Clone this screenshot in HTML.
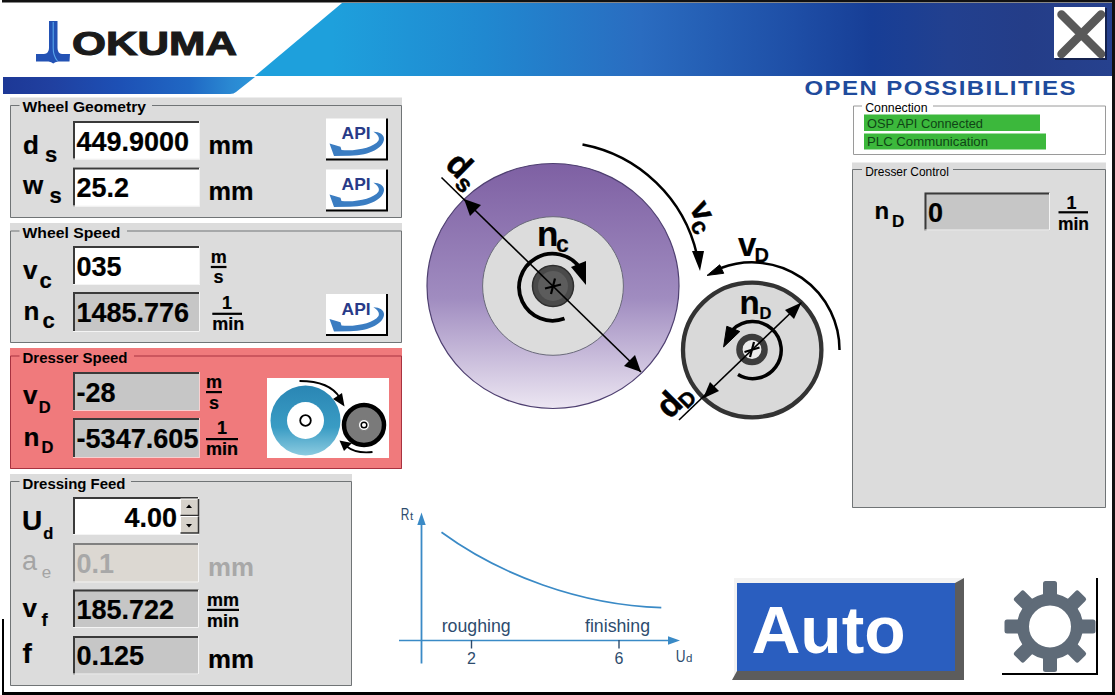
<!DOCTYPE html><html><head><meta charset="utf-8"><style>html,body{margin:0;padding:0;background:#fff;overflow:hidden;width:1115px;height:695px}svg{display:block}text{font-family:"Liberation Sans",sans-serif}</style></head><body>
<svg width="1115" height="695" viewBox="0 0 1115 695">
<defs>
<linearGradient id="hdr" x1="0" y1="0" x2="1" y2="0">
<stop offset="0.09" stop-color="#1ea0dc"/><stop offset="0.27" stop-color="#2088d0"/><stop offset="0.45" stop-color="#2a6cc0"/><stop offset="0.63" stop-color="#1e4ea6"/><stop offset="0.72" stop-color="#173e96"/><stop offset="0.81" stop-color="#22408f"/><stop offset="0.9" stop-color="#243d88"/><stop offset="1" stop-color="#26418e"/>
</linearGradient>
<linearGradient id="hdr2" x1="0" y1="0" x2="1" y2="0">
<stop offset="0" stop-color="#1d3896"/><stop offset="0.19" stop-color="#2040a0"/><stop offset="0.46" stop-color="#1d50b5"/><stop offset="0.74" stop-color="#2068c4"/><stop offset="0.9" stop-color="#2a88d2"/><stop offset="1" stop-color="#2b96da"/>
</linearGradient>
<linearGradient id="purp" x1="0" y1="0" x2="0" y2="1">
<stop offset="0" stop-color="#7e60a3"/><stop offset="0.55" stop-color="#a08cc0"/><stop offset="1" stop-color="#ece6f2"/>
</linearGradient>
<linearGradient id="teal" x1="0" y1="0" x2="0" y2="1">
<stop offset="0" stop-color="#2a86b4"/><stop offset="0.6" stop-color="#3a9cc4"/><stop offset="1" stop-color="#8ccbe0"/>
</linearGradient>
</defs>
<rect x="0" y="0" width="1115" height="695" fill="#fff"/>
<polygon points="342,3 1112,3 1112,76 255,76" fill="url(#hdr)"/>
<path d="M3,77 H255 L236,92 Q234,94 230,94 H3 Z" fill="url(#hdr2)"/>
<rect x="2" y="0" width="1113" height="2.5" fill="#111"/>
<rect x="1112" y="0" width="3" height="695" fill="#111"/>
<rect x="2" y="692" width="1113" height="3" fill="#000"/>
<rect x="2" y="619" width="2" height="76" fill="#000"/>
<path d="M49,21 H57.5 V48 Q57.5,53.5 62,54 H70 L69.5,61.5 H58 Q55,62 53.2,63.5 Q51.5,62 48.5,61.5 H36 L36,54 H44 Q49,53.5 49,48 Z" fill="#2352b4"/>
<path d="M53.2,22 V48 Q53.2,56 57.5,61" fill="none" stroke="#5aa8ec" stroke-width="1.1"/>
<text x="72" y="54.6" font-size="33" font-weight="bold" fill="#1a1a1a" textLength="165" lengthAdjust="spacingAndGlyphs" stroke="#1a1a1a" stroke-width="1.1">OKUMA</text>
<rect x="1055" y="8" width="52" height="52" fill="#15234f"/>
<rect x="1054" y="7" width="51" height="51" fill="#fff"/>
<path d="M1061.5,14.5 L1101,54 M1101,14.5 L1061.5,54" stroke="#595959" stroke-width="8.5" stroke-linecap="round"/>
<text transform="translate(804.5,94.8) scale(1.2,1)" x="0" y="0" font-size="20" font-weight="bold" fill="#1f4b9c" letter-spacing="1.2">OPEN POSSIBILITIES</text>
<rect x="10" y="97.5" width="392" height="120.5" fill="#dcdcdc"/>
<path d="M19.5,105.5 H10.5 V217.5 H401.5 V105.5 H152" fill="none" stroke="#707476" stroke-width="1"/>
<text x="22.5" y="112.2" font-size="14.5" font-weight="bold" textLength="123.5" lengthAdjust="spacingAndGlyphs">Wheel Geometry</text>
<text x="23" y="153.8" font-size="26" font-weight="bold" stroke="#000" stroke-width="0.2">d</text>
<text x="45" y="161.8" font-size="22" font-weight="bold" stroke="#000" stroke-width="0.2">s</text>
<text x="23" y="194.4" font-size="26" font-weight="bold" stroke="#000" stroke-width="0.2">w</text>
<text x="49.5" y="202.8" font-size="22" font-weight="bold" stroke="#000" stroke-width="0.2">s</text>
<rect x="73" y="121" width="127" height="38.5" fill="#fff"/>
<path d="M74,159.5 V122 H200" fill="none" stroke="#3a3a3a" stroke-width="2"/>
<path d="M73,159.0 H199.5 V121" fill="none" stroke="#f4f4f4" stroke-width="1"/>
<text x="76.5" y="150.5" font-size="27" font-weight="bold" stroke="#000" stroke-width="0.2" textLength="112.5" lengthAdjust="spacingAndGlyphs">449.9000</text>
<rect x="73" y="167.5" width="127" height="39.0" fill="#fff"/>
<path d="M74,206.5 V168.5 H200" fill="none" stroke="#3a3a3a" stroke-width="2"/>
<path d="M73,206.0 H199.5 V167.5" fill="none" stroke="#f4f4f4" stroke-width="1"/>
<text x="76.5" y="197" font-size="27" font-weight="bold" stroke="#000" stroke-width="0.2">25.2</text>
<text x="208.5" y="153.5" font-size="26" font-weight="bold" stroke="#000" stroke-width="0.2" textLength="45" lengthAdjust="spacingAndGlyphs">mm</text>
<text x="208.5" y="199.5" font-size="26" font-weight="bold" stroke="#000" stroke-width="0.2" textLength="45" lengthAdjust="spacingAndGlyphs">mm</text>
<g transform="translate(326,118.5)">
<rect x="0" y="0" width="61" height="40" fill="#fff"/>
<path d="M61,0 V41 H0" fill="none" stroke="#000" stroke-width="2"/>
<text x="15.6" y="20.7" font-size="16.3" font-weight="bold" fill="#283a88" textLength="29" lengthAdjust="spacingAndGlyphs">API</text>
<path d="M47.4,13.2 C53,13 58.5,16 58,21 C57,29 45,37 24,37.2 L8,37.5 L3.5,25 L14.5,28.2 L15.5,31.5 C30,33 48,29 52.5,22 C54,19 51.5,15.5 47.4,13.2 Z" fill="#3b7dc2"/>
</g>
<g transform="translate(326,169.5)">
<rect x="0" y="0" width="61" height="40" fill="#fff"/>
<path d="M61,0 V41 H0" fill="none" stroke="#000" stroke-width="2"/>
<text x="15.6" y="20.7" font-size="16.3" font-weight="bold" fill="#283a88" textLength="29" lengthAdjust="spacingAndGlyphs">API</text>
<path d="M47.4,13.2 C53,13 58.5,16 58,21 C57,29 45,37 24,37.2 L8,37.5 L3.5,25 L14.5,28.2 L15.5,31.5 C30,33 48,29 52.5,22 C54,19 51.5,15.5 47.4,13.2 Z" fill="#3b7dc2"/>
</g>
<rect x="10" y="223" width="392" height="120" fill="#dcdcdc"/>
<path d="M19.5,231.0 H10.5 V342.5 H401.5 V231.0 H127" fill="none" stroke="#707476" stroke-width="1"/>
<text x="22.5" y="238" font-size="14" font-weight="bold" textLength="98" lengthAdjust="spacingAndGlyphs">Wheel Speed</text>
<text x="23" y="279" font-size="26" font-weight="bold" stroke="#000" stroke-width="0.2">v</text>
<text x="39.5" y="287.6" font-size="22" font-weight="bold" stroke="#000" stroke-width="0.2">c</text>
<text x="23.5" y="320" font-size="26" font-weight="bold" stroke="#000" stroke-width="0.2">n</text>
<text x="42.5" y="328.4" font-size="22" font-weight="bold" stroke="#000" stroke-width="0.2">c</text>
<rect x="73" y="246" width="127" height="39" fill="#fff"/>
<path d="M74,285 V247 H200" fill="none" stroke="#3a3a3a" stroke-width="2"/>
<path d="M73,284.5 H199.5 V246" fill="none" stroke="#f4f4f4" stroke-width="1"/>
<text x="76.5" y="276" font-size="27" font-weight="bold" stroke="#000" stroke-width="0.2">035</text>
<rect x="73" y="292" width="127" height="40" fill="#c6c6c6"/>
<path d="M74,332 V293 H200" fill="none" stroke="#3a3a3a" stroke-width="2"/>
<path d="M73,331.5 H199.5 V292" fill="none" stroke="#f4f4f4" stroke-width="1"/>
<text x="76.5" y="322" font-size="27" font-weight="bold" stroke="#000" stroke-width="0.2">1485.776</text>
<text x="210.8" y="263" font-size="18" font-weight="bold" stroke="#000" stroke-width="0.2">m</text>
<rect x="210.8" y="265.9" width="15.699999999999989" height="2.2" fill="#000"/>
<text x="213.5" y="283.2" font-size="18" font-weight="bold" stroke="#000" stroke-width="0.2">s</text>
<text x="222" y="309" font-size="18" font-weight="bold" stroke="#000" stroke-width="0.2">1</text>
<rect x="212.3" y="312.7" width="29.69999999999999" height="2.2" fill="#000"/>
<text x="212.3" y="330" font-size="18" font-weight="bold" stroke="#000" stroke-width="0.2">min</text>
<g transform="translate(326,294)">
<rect x="0" y="0" width="61" height="40" fill="#fff"/>
<path d="M61,0 V41 H0" fill="none" stroke="#000" stroke-width="2"/>
<text x="15.6" y="20.7" font-size="16.3" font-weight="bold" fill="#283a88" textLength="29" lengthAdjust="spacingAndGlyphs">API</text>
<path d="M47.4,13.2 C53,13 58.5,16 58,21 C57,29 45,37 24,37.2 L8,37.5 L3.5,25 L14.5,28.2 L15.5,31.5 C30,33 48,29 52.5,22 C54,19 51.5,15.5 47.4,13.2 Z" fill="#3b7dc2"/>
</g>
<rect x="10" y="348" width="392" height="121" fill="#f07a7c"/>
<path d="M19.5,356.0 H10.5 V468.5 H401.5 V356.0 H134" fill="none" stroke="#a83240" stroke-width="1"/>
<text x="22.5" y="363" font-size="14" font-weight="bold" textLength="105" lengthAdjust="spacingAndGlyphs">Dresser Speed</text>
<text x="23" y="404" font-size="26" font-weight="bold" stroke="#000" stroke-width="0.2">v</text>
<text x="38.8" y="412.5" font-size="16.5" font-weight="bold" stroke="#000" stroke-width="0.2">D</text>
<text x="23.5" y="445.6" font-size="26" font-weight="bold" stroke="#000" stroke-width="0.2">n</text>
<text x="41.6" y="452.8" font-size="16.5" font-weight="bold" stroke="#000" stroke-width="0.2">D</text>
<rect x="73" y="372" width="127" height="39" fill="#c6c6c6"/>
<path d="M74,411 V373 H200" fill="none" stroke="#3a3a3a" stroke-width="2"/>
<path d="M73,410.5 H199.5 V372" fill="none" stroke="#f8d0d0" stroke-width="1"/>
<text x="76.5" y="402" font-size="27" font-weight="bold" stroke="#000" stroke-width="0.2">-28</text>
<rect x="73" y="418" width="127" height="40" fill="#c6c6c6"/>
<path d="M74,458 V419 H200" fill="none" stroke="#3a3a3a" stroke-width="2"/>
<path d="M73,457.5 H199.5 V418" fill="none" stroke="#f8d0d0" stroke-width="1"/>
<text x="76.5" y="448" font-size="27" font-weight="bold" stroke="#000" stroke-width="0.2" textLength="122" lengthAdjust="spacingAndGlyphs">-5347.605</text>
<text x="206" y="388" font-size="18" font-weight="bold" stroke="#000" stroke-width="0.2">m</text>
<rect x="206" y="391" width="16" height="2.2" fill="#000"/>
<text x="209" y="409" font-size="18" font-weight="bold" stroke="#000" stroke-width="0.2">s</text>
<text x="217" y="434" font-size="18" font-weight="bold" stroke="#000" stroke-width="0.2">1</text>
<rect x="206" y="438" width="32" height="2.2" fill="#000"/>
<text x="206" y="455" font-size="18" font-weight="bold" stroke="#000" stroke-width="0.2">min</text>
<rect x="267" y="378" width="122" height="80" fill="#fff"/>
<circle cx="305.5" cy="420.5" r="35" fill="url(#teal)"/>
<circle cx="305.5" cy="420.5" r="18.5" fill="#fff"/>
<circle cx="305.5" cy="420.5" r="5.3" fill="none" stroke="#000" stroke-width="1.8"/>
<circle cx="364" cy="425" r="20" fill="#7a7a7a" stroke="#000" stroke-width="4.5"/>
<circle cx="364" cy="425" r="5.5" fill="#fff" stroke="#777" stroke-width="1"/>
<circle cx="364" cy="425" r="2.8" fill="none" stroke="#000" stroke-width="1.5"/>
<path d="M299.5,381 Q330,381 340,398" fill="none" stroke="#000" stroke-width="1.8"/>
<path d="M344.5,406.5 L333,399 L342,393 Z" fill="#000"/>
<path d="M372.5,452 Q356,454 346,446" fill="none" stroke="#000" stroke-width="1.8"/>
<path d="M339.5,440.5 L352,443 L344,451 Z" fill="#000"/>
<rect x="10" y="474" width="342" height="212" fill="#dcdcdc"/>
<path d="M19.5,481.5 H10.5 V685.5 H351.5 V481.5 H131" fill="none" stroke="#707476" stroke-width="1"/>
<text x="22.5" y="489" font-size="14" font-weight="bold" textLength="103" lengthAdjust="spacingAndGlyphs">Dressing Feed</text>
<text x="22" y="529.7" font-size="28" font-weight="bold" stroke="#000" stroke-width="0.2">U</text>
<text x="43.3" y="538.8" font-size="16.5" font-weight="bold" stroke="#000" stroke-width="0.2">d</text>
<text x="22" y="569.5" font-size="27" fill="#a4a4a4">a</text>
<text x="41.8" y="577.7" font-size="17" fill="#a4a4a4">e</text>
<text x="22.5" y="617.4" font-size="26" font-weight="bold" stroke="#000" stroke-width="0.2">v</text>
<text x="41.5" y="625.6" font-size="18.5" font-weight="bold" stroke="#000" stroke-width="0.2">f</text>
<text x="22.5" y="662.6" font-size="28" font-weight="bold" stroke="#000" stroke-width="0.2">f</text>
<rect x="73" y="497" width="126" height="38" fill="#fff"/>
<path d="M74,535 V498 H199" fill="none" stroke="#3a3a3a" stroke-width="2"/>
<path d="M73,534.5 H198.5 V497" fill="none" stroke="#f4f4f4" stroke-width="1"/>
<text x="177" y="527" font-size="27" font-weight="bold" stroke="#000" stroke-width="0.2" text-anchor="end">4.00</text>
<rect x="180.5" y="499" width="18" height="16.5" fill="#d6d2ca"/><rect x="180.5" y="516.5" width="18" height="16.5" fill="#d6d2ca"/>
<path d="M180.5,515.5 V499 H198" fill="none" stroke="#fff" stroke-width="1"/><path d="M180.5,515.5 H198.5 V499" fill="none" stroke="#333" stroke-width="1.5"/>
<path d="M180.5,533 V516.5 H198" fill="none" stroke="#fff" stroke-width="1"/><path d="M180.5,533 H198.5 V516.5" fill="none" stroke="#333" stroke-width="1.5"/>
<path d="M186,508 L192,508 L189,504.5 Z M186,524 L192,524 L189,527.5 Z" fill="#000"/>
<rect x="73" y="543" width="126" height="39.5" fill="#dcd8d2"/>
<path d="M74,582.5 V544 H199" fill="none" stroke="#808080" stroke-width="2"/>
<path d="M73,582.0 H198.5 V543" fill="none" stroke="#f4f4f4" stroke-width="1"/>
<text x="76.5" y="573" font-size="27" font-weight="bold" fill="#a8a8a8">0.1</text>
<text x="208" y="576" font-size="26" font-weight="bold" fill="#a8a8a8" textLength="46" lengthAdjust="spacingAndGlyphs">mm</text>
<rect x="73" y="589.5" width="126" height="38.5" fill="#c6c6c6"/>
<path d="M74,628 V590.5 H199" fill="none" stroke="#3a3a3a" stroke-width="2"/>
<path d="M73,627.5 H198.5 V589.5" fill="none" stroke="#f4f4f4" stroke-width="1"/>
<text x="76.5" y="619" font-size="27" font-weight="bold" stroke="#000" stroke-width="0.2">185.722</text>
<text x="207" y="606.2" font-size="18" font-weight="bold" stroke="#000" stroke-width="0.2" textLength="32" lengthAdjust="spacingAndGlyphs">mm</text>
<rect x="207" y="608.8" width="32" height="2.2" fill="#000"/>
<text x="207" y="626.8" font-size="18" font-weight="bold" stroke="#000" stroke-width="0.2" textLength="32" lengthAdjust="spacingAndGlyphs">min</text>
<rect x="73" y="636" width="126" height="38.5" fill="#c6c6c6"/>
<path d="M74,674.5 V637 H199" fill="none" stroke="#3a3a3a" stroke-width="2"/>
<path d="M73,674.0 H198.5 V636" fill="none" stroke="#f4f4f4" stroke-width="1"/>
<text x="76.5" y="665" font-size="27" font-weight="bold" stroke="#000" stroke-width="0.2">0.125</text>
<text x="208" y="668" font-size="26" font-weight="bold" stroke="#000" stroke-width="0.2" textLength="46" lengthAdjust="spacingAndGlyphs">mm</text>
<rect x="853" y="105.5" width="253" height="49.5" fill="#fff"/>
<path d="M862,106.0 H853.5 V154.5 H1105.5 V106.0 H933" fill="none" stroke="#9a9a9a" stroke-width="1"/>
<text x="865.2" y="112" font-size="12.5" textLength="62.4" lengthAdjust="spacingAndGlyphs">Connection</text>
<rect x="864" y="114.5" width="176" height="16.5" fill="#3cb83c"/>
<rect x="864" y="133.5" width="182" height="16" fill="#3cb83c"/>
<text x="867" y="127.5" font-size="12.5" fill="#0f4416" textLength="116" lengthAdjust="spacingAndGlyphs">OSP API Connected</text>
<text x="867" y="146" font-size="12.5" fill="#0f4416" textLength="121" lengthAdjust="spacingAndGlyphs">PLC Communication</text>
<rect x="852" y="162.5" width="254" height="345.5" fill="#dcdcdc"/>
<path d="M862,169.5 H852.5 V507.5 H1105.5 V169.5 H953" fill="none" stroke="#707476" stroke-width="1"/>
<text x="865.2" y="176" font-size="12.5" textLength="83.6" lengthAdjust="spacingAndGlyphs">Dresser Control</text>
<text x="874.5" y="218.6" font-size="24" font-weight="bold" stroke="#000" stroke-width="0.2">n</text>
<text x="892" y="227.4" font-size="17" font-weight="bold" stroke="#000" stroke-width="0.2">D</text>
<rect x="924.5" y="192.5" width="125.5" height="38.0" fill="#c6c6c6"/>
<path d="M925.5,230.5 V193.5 H1050" fill="none" stroke="#3a3a3a" stroke-width="2"/>
<path d="M924.5,230.0 H1049.5 V192.5" fill="none" stroke="#f4f4f4" stroke-width="1"/>
<text x="928" y="222" font-size="27" font-weight="bold" stroke="#000" stroke-width="0.2">0</text>
<text x="1066.5" y="208.7" font-size="18" font-weight="bold" stroke="#000" stroke-width="0.2">1</text>
<rect x="1058.5" y="211.2" width="29.5" height="2.2" fill="#000"/>
<text x="1058" y="229.8" font-size="18" font-weight="bold" stroke="#000" stroke-width="0.2" textLength="31" lengthAdjust="spacingAndGlyphs">min</text>
<ellipse cx="553" cy="286" rx="126" ry="122.5" fill="url(#purp)" stroke="#4e3f70" stroke-width="1.2"/>
<ellipse cx="553" cy="286" rx="70.4" ry="69.3" fill="#dcdcdc" stroke="#6a6a7a" stroke-width="1"/>
<circle cx="553" cy="286" r="20.5" fill="#4a4a4a" stroke="#2e2e2e" stroke-width="1.5"/>
<circle cx="553" cy="286" r="15" fill="#5c5c5c"/>
<path d="M545,288.5 L561,284.5 M555,278.5 L551,294" stroke="#000" stroke-width="2.2"/>
<path d="M564.5,318.5 A33.5,33.5 0 1 1 580,268" fill="none" stroke="#000" stroke-width="3.8"/>
<path d="M571,267 L586,261 L586,285 Z" fill="#000"/>
<text x="537" y="246.4" font-size="35" font-weight="bold" stroke="#000" stroke-width="0.2">n</text>
<text x="556" y="252" font-size="23" font-weight="bold" stroke="#000" stroke-width="0.2">c</text>
<path d="M441.5,177.5 L641,372" stroke="#000" stroke-width="1.6"/>
<path d="M464,199 L481,205 L470,216 Z" fill="#000"/>
<path d="M641,372 L624,366 L635,355 Z" fill="#000"/>
<g transform="translate(443.9,165.8) rotate(45)" stroke="#000" stroke-width="0.5"><text x="0" y="0" font-size="34" font-weight="bold">d</text><text x="20.5" y="6.5" font-size="24" font-weight="bold">s</text></g>
<path d="M582.5,144.5 A145,145 0 0 1 697,255" fill="none" stroke="#000" stroke-width="2.5"/>
<path d="M700,271 L692,251 L704,251 Z" fill="#000"/>
<g transform="translate(689,207.5) rotate(63)" stroke="#000" stroke-width="0.4"><text x="0" y="0" font-size="32" font-weight="bold">v</text><text x="15.5" y="7" font-size="24" font-weight="bold">c</text></g>
<path d="M721,268 A87.5,87.5 0 0 1 839.5,350" fill="none" stroke="#000" stroke-width="2.5"/>
<path d="M707.1,275.4 L719.7,264.8 L723.7,273.3 Z" fill="#000" stroke="#000" stroke-width="1" stroke-linejoin="round"/>
<text x="738" y="255.7" font-size="33" font-weight="bold" stroke="#000" stroke-width="0.2">v</text>
<text x="754.5" y="261.8" font-size="20" font-weight="bold" stroke="#000" stroke-width="0.2">D</text>
<ellipse cx="752.2" cy="350" rx="69.2" ry="67.3" fill="#d9d9d9" stroke="#333" stroke-width="4.3"/>
<circle cx="752" cy="349.5" r="12.6" fill="#ececec" stroke="#3c3c3c" stroke-width="6.4"/>
<path d="M744.5,352 L759.5,347.5 M754,342 L750,357" stroke="#000" stroke-width="2.2"/>
<path d="M738,374.5 A28.5,28.5 0 1 0 733,329.5" fill="none" stroke="#000" stroke-width="3.5"/>
<path d="M723.6,347 L726.8,326.3 L739.8,331.5 Z" fill="#000" stroke="#000" stroke-width="1" stroke-linejoin="round"/>
<text x="739.5" y="314" font-size="33" font-weight="bold" stroke="#000" stroke-width="0.2">n</text>
<text x="759.5" y="319.1" font-size="16.5" font-weight="bold" stroke="#000" stroke-width="0.2">D</text>
<path d="M679,420 L801.5,302.5" stroke="#000" stroke-width="1.6"/>
<path d="M801.5,302.5 L794,319 L785,310 Z" fill="#000"/>
<path d="M703,398.5 L710,382 L719,391 Z" fill="#000"/>
<g transform="translate(669.8,420) rotate(-45)" stroke="#000" stroke-width="0.5"><text x="0" y="0" font-size="34" font-weight="bold">d</text><text x="19.5" y="5" font-size="21" font-weight="bold">D</text></g>
<path d="M421.5,522 V663.5" stroke="#3a8ac6" stroke-width="1.8"/>
<path d="M421.5,512.5 L417.3,525 L425.7,525 Z" fill="#3a8ac6"/>
<path d="M399,640.5 H670" stroke="#3a8ac6" stroke-width="1.7"/>
<path d="M680,640.5 L668,636.2 L668,644.8 Z" fill="#3a8ac6"/>
<path d="M471.5,640 V648.5 M619,640 V648.5" stroke="#2d4c6e" stroke-width="1.4"/>
<path d="M441.5,532.3 C500,575 580,605 661.3,607.7" fill="none" stroke="#3a8ac6" stroke-width="1.7"/>
<text x="441.7" y="631.8" font-size="17.5" fill="#2d4c6e" textLength="69" lengthAdjust="spacingAndGlyphs">roughing</text>
<text x="585" y="631.8" font-size="17.5" fill="#2d4c6e" textLength="65" lengthAdjust="spacingAndGlyphs">finishing</text>
<text x="471.5" y="664.3" font-size="16" fill="#2d4c6e" text-anchor="middle">2</text>
<text x="619" y="664.3" font-size="16" fill="#2d4c6e" text-anchor="middle">6</text>
<text x="400.8" y="519.9" font-size="16.5" fill="#2d4c6e" textLength="8.6" lengthAdjust="spacingAndGlyphs">R</text>
<text x="410" y="519.9" font-size="11.5" fill="#2d4c6e">t</text>
<text x="675.8" y="661.7" font-size="16.5" fill="#2d4c6e" textLength="9.8" lengthAdjust="spacingAndGlyphs">U</text>
<text x="686" y="661.7" font-size="11.5" fill="#2d4c6e">d</text>
<polygon points="734,578 964,578 955,583 737,583 737,671 734,676" fill="#f2f2f2"/>
<polygon points="964,578 964,680 732,680 737,671 955,671 955,583" fill="#5c5c5c"/>
<rect x="737" y="583" width="218" height="88" fill="#2a5ebf"/>
<text x="751.4" y="653.4" font-size="66" font-weight="bold" fill="#fff" textLength="154.3" lengthAdjust="spacingAndGlyphs">Auto</text>
<path d="M1097,578 V674 H1002" fill="none" stroke="#000" stroke-width="2"/>
<circle cx="1050" cy="626.5" r="27" fill="none" stroke="#5f6b78" stroke-width="12"/>
<rect x="1043" y="581.0" width="14" height="16" rx="2.5" fill="#5f6b78" transform="rotate(0 1050 626.5)"/>
<rect x="1043" y="581.0" width="14" height="16" rx="2.5" fill="#5f6b78" transform="rotate(45 1050 626.5)"/>
<rect x="1043" y="581.0" width="14" height="16" rx="2.5" fill="#5f6b78" transform="rotate(90 1050 626.5)"/>
<rect x="1043" y="581.0" width="14" height="16" rx="2.5" fill="#5f6b78" transform="rotate(135 1050 626.5)"/>
<rect x="1043" y="581.0" width="14" height="16" rx="2.5" fill="#5f6b78" transform="rotate(180 1050 626.5)"/>
<rect x="1043" y="581.0" width="14" height="16" rx="2.5" fill="#5f6b78" transform="rotate(225 1050 626.5)"/>
<rect x="1043" y="581.0" width="14" height="16" rx="2.5" fill="#5f6b78" transform="rotate(270 1050 626.5)"/>
<rect x="1043" y="581.0" width="14" height="16" rx="2.5" fill="#5f6b78" transform="rotate(315 1050 626.5)"/>
</svg></body></html>
